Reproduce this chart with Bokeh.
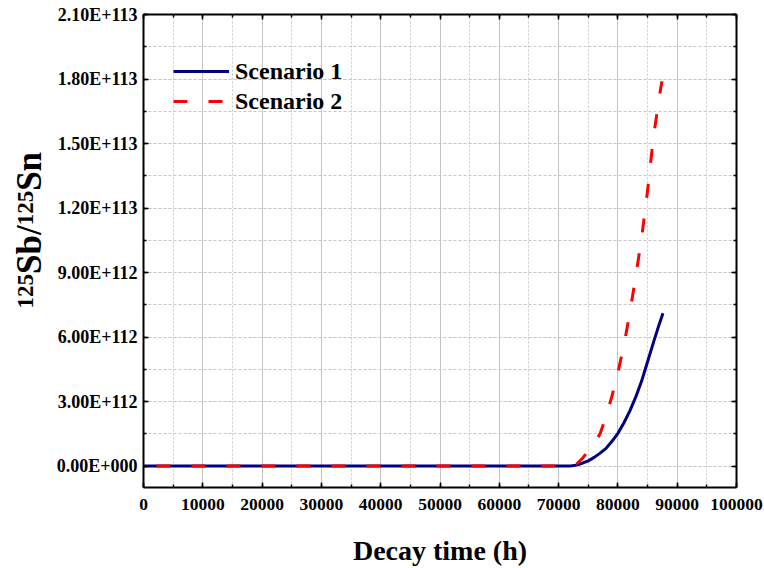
import math
from bokeh.plotting import figure
from bokeh.layouts import row
from bokeh.models import (Range1d, LinearAxis, SingleIntervalTicker, CustomJSTickFormatter,
                          Legend, LegendItem, Label)
from bokeh.embed import file_html
from bokeh.resources import INLINE

# ---------------- data ----------------
series_names = ["Scenario 1", "Scenario 2"]

decay_time_s1 = [0, 72000, 73000, 74000, 75000, 76000, 77000, 78000, 79000, 80000,
                 81000, 82000, 83000, 84000, 85000, 86000, 87000, 87600]
ratio_s1 = [0, 0, 0.04e112, 0.13e112, 0.24e112, 0.40e112, 0.60e112, 0.82e112, 1.15e112,
            1.52e112, 2.00e112, 2.55e112, 3.20e112, 3.95e112, 4.85e112, 5.75e112,
            6.62e112, 7.10e112]

decay_time_s2 = [0, 72000, 73000, 74000, 75000, 76000, 77000, 78000, 79000, 80000,
                 81000, 82000, 83000, 84000, 85000, 86000, 87000, 87430]
ratio_s2 = [0, 0, 0.08e112, 0.35e112, 0.70e112, 1.05e112, 1.50e112, 2.30e112, 3.25e112,
            4.35e112, 5.60e112, 7.10e112, 8.80e112, 10.6e112, 12.8e112, 15.3e112,
            17.2e112, 17.9e112]

y_tick_values = [0, 3e112, 6e112, 9e112, 1.2e113, 1.5e113, 1.8e113, 2.1e113]
y_tick_labels = ["0.00E+000", "3.00E+112", "6.00E+112", "9.00E+112",
                 "1.20E+113", "1.50E+113", "1.80E+113", "2.10E+113"]
x_tick_values = [0, 10000, 20000, 30000, 40000, 50000, 60000, 70000, 80000, 90000, 100000]
x_tick_labels = ["0", "10000", "20000", "30000", "40000", "50000", "60000",
                 "70000", "80000", "90000", "100000"]

x_title = "Decay time (h)"
y_title_parts = ["125", "Sb/", "125", "Sn"]

FONT = "Liberation Serif"
TITLE_W = 50

# ---------------- main figure ----------------
p = figure(width=764 - TITLE_W, height=568, output_backend="svg", toolbar_location=None,
           x_range=Range1d(0, 100000), y_range=Range1d(-1e112, 2.1e113),
           min_border_left=143 - TITLE_W, min_border_right=28, min_border_top=14,
           min_border_bottom=79, background_fill_color="white",
           border_fill_color="white")
p.outline_line_color = None

xticker = SingleIntervalTicker(interval=10000, num_minor_ticks=2)
yticker = SingleIntervalTicker(interval=3e112, num_minor_ticks=2)

lookup_code = """
let best = -1, bd = Infinity;
for (let i = 0; i < vals.length; i++) {
  const d = Math.abs(vals[i] - tick);
  if (d < bd) { bd = d; best = i; }
}
return (best >= 0 && bd < tol) ? labs[best] : "";
"""
xfmt = CustomJSTickFormatter(args=dict(vals=x_tick_values, labs=x_tick_labels, tol=1.0),
                             code=lookup_code)
yfmt = CustomJSTickFormatter(args=dict(vals=y_tick_values, labs=y_tick_labels, tol=1e110),
                             code=lookup_code)
blank = CustomJSTickFormatter(code="return '';")


def style_axis(ax, size="17px"):
    ax.axis_line_color = "black"
    ax.axis_line_width = 2
    ax.major_tick_line_color = "black"
    ax.minor_tick_line_color = "black"
    ax.major_tick_line_width = 1.5
    ax.minor_tick_line_width = 1.5
    ax.major_tick_in = 5
    ax.major_tick_out = 0
    ax.minor_tick_in = 3
    ax.minor_tick_out = 0
    ax.major_label_text_font = FONT
    ax.major_label_text_font_style = "bold"
    ax.major_label_text_font_size = size
    ax.major_label_text_color = "black"


xa = p.xaxis[0]
xa.ticker = xticker
xa.formatter = xfmt
style_axis(xa, "17.5px")
xa.major_label_standoff = 11
xa.axis_label = x_title
xa.axis_label_text_font = FONT
xa.axis_label_text_font_style = "bold"
xa.axis_label_text_font_size = "28px"
xa.axis_label_text_color = "black"
xa.axis_label_standoff = 22

ya = p.yaxis[0]
ya.ticker = yticker
ya.formatter = yfmt
style_axis(ya, "18px")
ya.major_label_standoff = 6

top_ax = LinearAxis(ticker=xticker, formatter=blank, major_label_standoff=0)
style_axis(top_ax)
p.add_layout(top_ax, "above")
right_ax = LinearAxis(ticker=yticker, formatter=blank, major_label_standoff=0)
style_axis(right_ax)
p.add_layout(right_ax, "right")

# grids
p.xgrid.ticker = xticker
p.ygrid.ticker = yticker
p.xgrid.grid_line_color = "#c4c4c4"
p.xgrid.grid_line_width = 1
p.xgrid.minor_grid_line_color = "#c8c8c8"
p.xgrid.minor_grid_line_dash = "2 2"
p.ygrid.grid_line_color = "#c8c8c8"
p.ygrid.grid_line_dash = "3 2"
p.ygrid.minor_grid_line_color = "#c8c8c8"
p.ygrid.minor_grid_line_dash = "3 2"

# lines
BLUE, RED = "#000080", "#ff0000"
r1 = p.line(decay_time_s1, ratio_s1, line_color=BLUE, line_width=3)
r2 = p.line(decay_time_s2, ratio_s2, line_color=RED, line_width=3,
            line_dash="14 21", line_dash_offset=22, line_cap="butt")
# legend key for scenario 2: same style, dash pattern starting with a dash
# (a single-point line draws nothing on the plot itself)
r2_key = p.line(decay_time_s2[:1], ratio_s2[:1], line_color=RED, line_width=3,
                line_dash="14 21", line_cap="butt")

legend = Legend(items=[LegendItem(label=series_names[0], renderers=[r1]),
                       LegendItem(label=series_names[1], renderers=[r2_key])],
                location=(30, 371), glyph_width=56, glyph_height=30, label_height=30,
                label_standoff=6, spacing=-2, padding=0, margin=0,
                border_line_color=None, background_fill_alpha=0,
                label_text_font=FONT, label_text_font_style="bold",
                label_text_font_size="24px", label_text_color="black")
p.add_layout(legend)

# ---------------- y-axis title panel (rotated, with superscripts) ----------------
# its frame is aligned with the main frame (top 14px, bottom 489px)
t = figure(width=TITLE_W, height=568, output_backend="svg", toolbar_location=None,
           x_range=Range1d(0, 1), y_range=Range1d(0, 1),
           x_axis_location=None, y_axis_location=None, min_border=0,
           background_fill_color="white", border_fill_color="white")
t.outline_line_color = None
t.grid.visible = False

big, small = 35, 23
widths = [1.5 * small, 1.39 * big, 1.5 * small, 1.112 * big]
sizes = [small, big, small, big]
baselines = [33, 41, 33, 41]
ypos = 489 - 310
for txt, w, s, bl in zip(y_title_parts, widths, sizes, baselines):
    t.add_layout(Label(x=bl - 0.3375 * s, y=ypos, x_units="screen", y_units="screen",
                       text=txt, angle=math.pi / 2, text_align="left",
                       text_baseline="middle", text_font=FONT,
                       text_font_style="bold", text_font_size=f"{s}px",
                       text_color="black"))
    ypos += w

layout = row(t, p, spacing=0)
open("out.html", "w").write(file_html(layout, INLINE))
